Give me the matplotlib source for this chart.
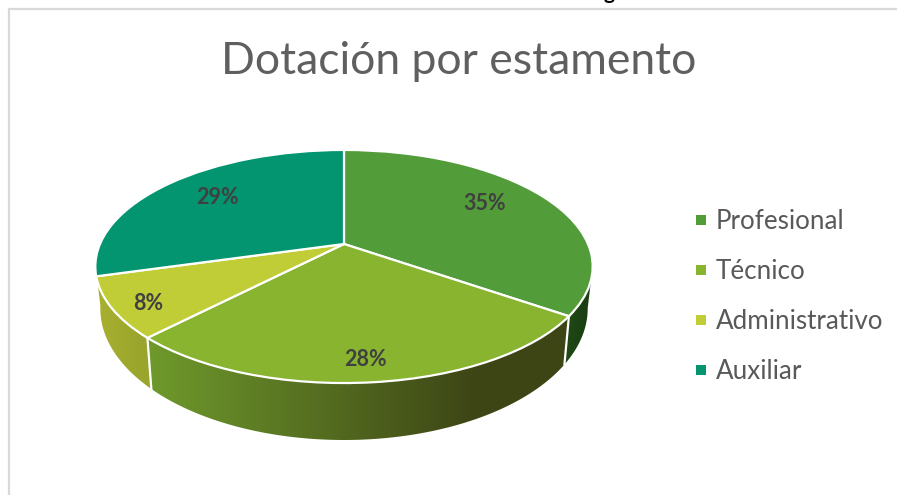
import numpy as np
import matplotlib
matplotlib.use("Agg")
import matplotlib.pyplot as plt
from matplotlib.colors import to_rgb
from matplotlib.patches import Polygon
from matplotlib.transforms import Transform

plt.rcParams["font.family"] = ["Lato", "DejaVu Sans"]

# datos
categorias = ["Profesional", "Técnico", "Administrativo", "Auxiliar"]
porcentajes = [34.7, 27.5, 8.4, 29.4]
titulo = "Dotación por estamento"

colores = ["#529c3a", "#88b430", "#c0cd36", "#02956f"]
# degradado de la pared: color a la izquierda y a la derecha de cada porcion
pared_izq = ["#1f4a16", "#6f9a2c", "#a9b12f"]
pared_der = ["#1b3e12", "#3d4515", "#9aa52d"]
pos_etiquetas = [(485, 203), (365, 359), (148, 303), (217, 197)]

# geometria de la tarta en perspectiva (pixeles)
CX, CY = 344, 244
A, B, K = 244.0, 112.2, 0.193
ESCALA_BASE, BASE_Y, BASE_B = 0.98, 283, 126.7


def proyectar(u, v):
    w = 1 + K * v
    return CX + A * u / w, CY - B * v / w


def proyectar_base(u, v):
    w = 1 + K * v
    return CX + ESCALA_BASE * A * u / w, BASE_Y - BASE_B * v / w


class Perspectiva(Transform):
    input_dims = output_dims = 2
    is_separable = False
    has_inverse = False

    def transform_non_affine(self, values):
        x, y = proyectar(values[:, 0], values[:, 1])
        return np.column_stack([x, y])


fig = plt.figure(figsize=(8.97, 4.95), dpi=100)
ax = fig.add_axes([0, 0, 1, 1])

wedges, _ = ax.pie(porcentajes, colors=colores, startangle=90, counterclock=False,
                   wedgeprops=dict(edgecolor="white", linewidth=1.6))

for wedge in wedges:
    wedge.set_transform(Perspectiva() + ax.transData)
    wedge.set_zorder(3)

# paredes laterales, solo la parte frontal
frente_ini, frente_fin = np.radians(-11), np.radians(-170)
acum = np.concatenate([[0], np.cumsum(porcentajes)]) / np.sum(porcentajes)
angulos = np.pi / 2 - 2 * np.pi * acum

for i in range(3):
    ini = min(angulos[i], frente_ini)
    fin = frente_fin if i == 2 else angulos[i + 1]
    t = np.linspace(ini, fin, 200)
    xa, ya = proyectar(np.cos(t), np.sin(t))
    xb, yb = proyectar_base(np.cos(t), np.sin(t))
    contorno = np.vstack([np.column_stack([xa, ya]), np.column_stack([xb, yb])[::-1]])
    xmin, xmax = contorno[:, 0].min(), contorno[:, 0].max()
    ymin, ymax = contorno[:, 1].min(), contorno[:, 1].max()

    # el oscuro llega antes del borde derecho, luego se mantiene
    f = np.clip(np.linspace(0, 1, 400) / 0.78, 0, 1)[None, :, None]
    c0, c1 = np.array(to_rgb(pared_izq[i])), np.array(to_rgb(pared_der[i]))
    degradado = c0 + (c1 - c0) * f
    img = ax.imshow(degradado, extent=(xmin, xmax, ymax, ymin), aspect="auto", zorder=1,
                    interpolation="bilinear")
    img.set_clip_path(Polygon(contorno, closed=True, transform=ax.transData))

ax.set_aspect("auto")
ax.set_xlim(0, 897)
ax.set_ylim(495, 0)
ax.axis("off")

# separadores blancos en la pared
for ang in angulos[1:3]:
    xa, ya = proyectar(np.cos(ang), np.sin(ang))
    xb, yb = proyectar_base(np.cos(ang), np.sin(ang))
    ax.plot([xa, xb], [ya, yb], color="white", lw=1.6, zorder=2)

for valor, (x, y) in zip(porcentajes, pos_etiquetas):
    ax.text(x, y, f"{valor:.0f}%", ha="center", va="center", fontsize=15.5,
            fontweight="bold", color="#404040", zorder=4)

# marco del grafico
ax.plot([8.5, 8.5, 897], [495, 8.5, 8.5], color="#d9d9d9", lw=1.6, solid_joinstyle="miter", zorder=0)

# resto de texto cortado por arriba en la captura
ax.text(609, -1, "g", ha="center", va="baseline", fontsize=15, fontweight="bold", color="black")

ax.text(459, 61.5, titulo, ha="center", va="center", fontsize=32, fontweight=400, color="#5f5f5f")

# leyenda
for nombre, color, y in zip(categorias, colores, [220, 270, 320, 370]):
    ax.scatter([700.5], [y], marker="s", s=52, color=color, linewidths=0)
    ax.text(716, y + 1.5, nombre, ha="left", va="center", fontsize=18.7, color="#595959")

fig.savefig("out.png", dpi=100)
